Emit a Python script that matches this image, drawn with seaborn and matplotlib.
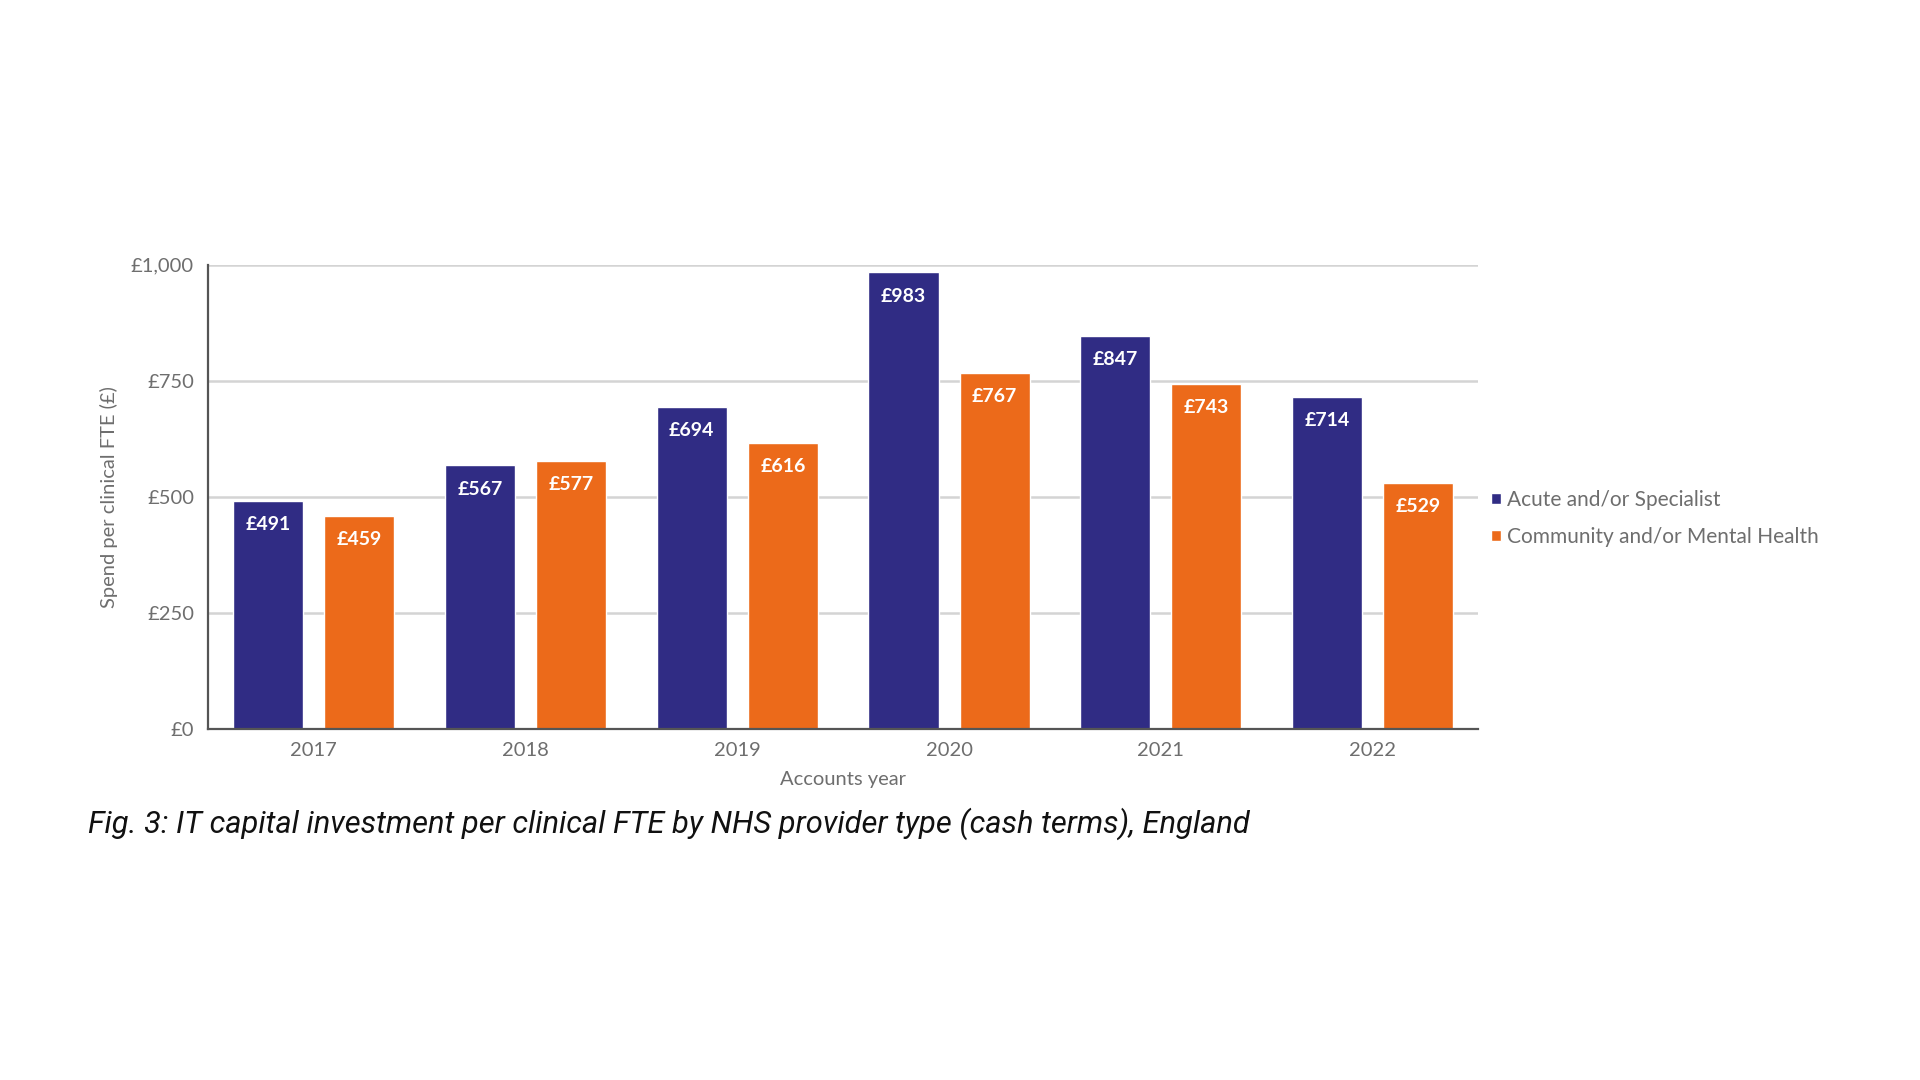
import pandas as pd
import numpy as np
import seaborn as sns
import matplotlib.pyplot as plt

# values
years = ['2017', '2018', '2019', '2020', '2021', '2022']
acute = [491, 567, 694, 983, 847, 714]
community = [459, 577, 616, 767, 743, 529]
series_names = ['Acute and/or Specialist', 'Community and/or Mental Health']
yticks = [0, 250, 500, 750, 1000]
ytick_labels = ['£0', '£250', '£500', '£750', '£1,000']

colours = {'Acute and/or Specialist': '#302c84',
           'Community and/or Mental Health': '#ec6a1a'}

df = pd.DataFrame({
    'Year': years * 2,
    'Spend': acute + community,
    'Type': [series_names[0]] * len(years) + [series_names[1]] * len(years),
})

sns.set_style('white')
plt.rcParams['font.family'] = ['Lato', 'DejaVu Sans']

fig = plt.figure(figsize=(19.2, 10.8), dpi=100)
ax = fig.add_axes([0.1083, 0.3254, 0.6617, 0.4296])

sns.barplot(data=df, x='Year', y='Spend', hue='Type', palette=colours,
            width=0.86, gap=0.23, saturation=1, ax=ax, legend=True)

# value labels inside the bar tops
for cont in ax.containers:
    for bar in cont:
        h = bar.get_height()
        ax.annotate(f'£{h:.0f}', (bar.get_x() + bar.get_width() / 2, h),
                    xytext=(0, -17), textcoords='offset points',
                    ha='center', va='center', color='white',
                    fontsize=14, fontweight='bold', zorder=5)

ax.set_ylim(0, 1000)
ax.set_xlim(-0.5, 5.5)
ax.set_yticks(yticks)
ax.set_yticklabels(ytick_labels)
ax.yaxis.grid(True, color='#d4d4d4', linewidth=1.8)
ax.set_axisbelow(True)
ax.tick_params(axis='both', length=0, labelsize=14.5, labelcolor='#6e6e6e', pad=10)

for s in ['top', 'right']:
    ax.spines[s].set_visible(False)
for s in ['left', 'bottom']:
    ax.spines[s].set_color('#555555')
    ax.spines[s].set_linewidth(1.6)

ax.set_xlabel('Accounts year', fontsize=14.5, color='#6e6e6e', labelpad=8)
ax.set_ylabel('Spend per clinical FTE (£)', fontsize=14.5, color='#6e6e6e', labelpad=9)

handles, labels = ax.get_legend_handles_labels()
ax.get_legend().remove()
fig.legend(handles, labels, loc='center left', bbox_to_anchor=(0.767, 0.52),
           frameon=False, fontsize=15, labelcolor='#6e6e6e',
           handlelength=0.45, handleheight=0.45, handletextpad=0.3,
           labelspacing=0.85)

fig.text(0.0458, 0.237,
         'Fig. 3: IT capital investment per clinical FTE by NHS provider type (cash terms), England',
         fontsize=22.2, fontstyle='italic', family='Roboto', color='#111111',
         ha='left', va='center')

fig.savefig('out.png', dpi=100, facecolor='white')
